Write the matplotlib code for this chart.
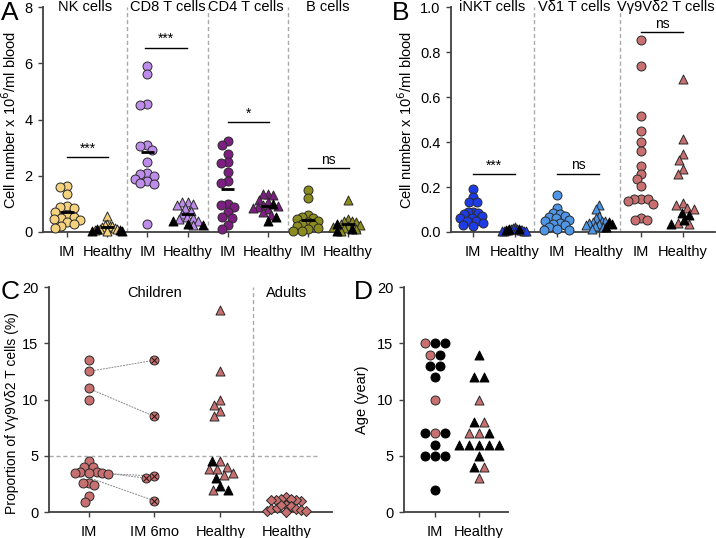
import numpy as np
import matplotlib
matplotlib.use("Agg")
import matplotlib.pyplot as plt

plt.rcParams['font.family'] = ['Liberation Sans', 'DejaVu Sans']

# ---------------- data ----------------
# panel A: cell number x 10^6/ml blood
nk_im = [1.63, 1.60, 1.35, 0.92, 0.88, 0.85, 0.70, 0.62, 0.55, 0.48, 0.45, 0.42, 0.35, 0.28, 0.22, 0.15]
nk_healthy = [0.58, 0.30, 0.25, 0.22, 0.20, 0.18, 0.15, 0.12, 0.10, 0.08, 0.05]
nk_healthy_black = [0.12, 0.08, 0.05, 0.03]
cd8_im = [5.92, 5.62, 4.55, 4.52, 3.08, 3.05, 2.90, 2.50, 2.10, 2.05, 2.00, 1.90, 1.80, 1.75, 1.70, 0.30]
cd8_healthy = [1.08, 1.05, 1.00, 0.95, 0.85, 0.75, 0.65, 0.55, 0.50, 0.45, 0.40, 0.25]
cd8_healthy_black = [0.40, 0.30, 0.25]
cd4_im = [3.25, 3.10, 2.78, 2.50, 2.45, 2.15, 1.80, 1.75, 1.00, 0.95, 0.90, 0.70, 0.55, 0.50, 0.25, 0.10]
cd4_healthy = [1.35, 1.35, 1.30, 1.15, 1.05, 0.95, 0.92, 0.90, 0.85, 0.80, 0.70, 0.60]
cd4_healthy_black = [1.00, 0.55, 0.38]
b_im = [1.48, 1.20, 0.60, 0.55, 0.50, 0.45, 0.40, 0.35, 0.30, 0.25, 0.20, 0.15, 0.10, 0.05, 0.03]
b_healthy = [1.15, 0.45, 0.40, 0.38, 0.35, 0.30, 0.25, 0.20, 0.18, 0.15, 0.10, 0.05]
b_healthy_black = [0.30, 0.12, 0.05]

# panel B
inkt_im = [0.19, 0.155, 0.135, 0.135, 0.09, 0.09, 0.085, 0.08, 0.07, 0.06, 0.06, 0.05, 0.05, 0.04, 0.03, 0.025]
inkt_healthy = [0.02, 0.018, 0.015, 0.012, 0.01, 0.01, 0.008, 0.006, 0.005, 0.004, 0.003]
inkt_healthy_black = [0.015, 0.012, 0.008]
vd1_im = [0.165, 0.105, 0.085, 0.08, 0.07, 0.065, 0.06, 0.055, 0.05, 0.04, 0.035, 0.03, 0.02, 0.015, 0.01, 0.01]
vd1_healthy = [0.12, 0.10, 0.07, 0.06, 0.05, 0.05, 0.045, 0.04, 0.035, 0.03, 0.025, 0.02, 0.015]
vd1_healthy_black = [0.045, 0.035, 0.02]
vg9_im = [0.855, 0.74, 0.515, 0.45, 0.40, 0.36, 0.295, 0.26, 0.235, 0.205, 0.145, 0.145, 0.14, 0.145, 0.125, 0.06, 0.055, 0.055]
vg9_healthy = [0.68, 0.415, 0.345, 0.32, 0.28, 0.26, 0.13, 0.12, 0.105, 0.10, 0.04, 0.035]
vg9_healthy_black = [0.085, 0.075, 0.055, 0.035]

# panel C: proportion of Vg9Vd2 T cells (%)
c_im = [13.5, 12.5, 11.0, 10.0, 4.5, 4.0, 4.0, 3.6, 3.55, 3.5, 3.5, 3.5, 3.35, 2.55, 2.55, 2.4, 1.4, 0.85]
c_im_6mo = [13.5, 8.5, 3.2, 3.0, 1.0]
c_pairs = [(1, 0), (2, 1), (9, 2), (10, 3), (11, 4)]
c_healthy = [18.0, 12.5, 10.0, 9.5, 9.0, 8.5, 4.5, 4.0, 3.8, 3.8, 3.5, 3.3, 2.0]
c_healthy_black = [4.5, 3.0, 2.3, 2.0]
c_adults = [1.3, 1.2, 1.1, 1.0, 1.1, 1.1, 1.2, 0.6, 0.5, 0.3, 0.2, 0.1, 0.0, 0.1, 0.25, 0.35, 0.6]

# panel D: age (year); 1 = high Vg9Vd2 (pink), 0 = black
d_im_age = [15, 15, 15, 14, 14, 13, 13, 12, 10, 7, 7, 7, 6, 5, 5, 5, 2]
d_im_high = [1, 0, 0, 1, 0, 0, 0, 0, 1, 0, 1, 0, 0, 0, 0, 0, 0]
d_healthy_age = [14, 12, 12, 10, 8, 8, 7, 7, 7, 6, 6, 6, 6, 6, 5, 4, 4, 3]
d_healthy_high = [0, 0, 0, 1, 0, 1, 1, 1, 0, 0, 0, 0, 0, 0, 0, 0, 1, 1]

# ---------------- helpers ----------------
AX_COL = '#404040'
EDGE = '#2a2a2a'
ROSE = '#c87070'


def style(ax):
    for s in ['top', 'right']:
        ax.spines[s].set_visible(False)
    for s in ['left', 'bottom']:
        ax.spines[s].set_color(AX_COL)
        ax.spines[s].set_linewidth(1.3)
    ax.tick_params(direction='out', length=3.5, width=1, color=AX_COL,
                   labelsize=10.5, pad=4)
    ax.tick_params(axis='x', pad=6)


def swarm(ax, x0, vals, d, maxpx):
    # simple beeswarm in pixel space, then squeezed to maxpx half width
    vals = np.asarray(vals, float)
    pts = ax.transData.transform(np.column_stack([np.full(len(vals), x0), vals]))
    pxx = ax.transData.transform([[1, 0]])[0][0] - ax.transData.transform([[0, 0]])[0][0]
    ys = pts[:, 1]
    offs = np.zeros(len(vals))
    placed = []
    for i in np.argsort(-ys, kind='stable'):
        y = ys[i]
        near = [(px, py) for px, py in placed if abs(py - y) < d]
        cands = [0.0]
        for px, py in near:
            dx = np.sqrt(d * d - (py - y) ** 2)
            cands += [px + dx, px - dx]
        cands.sort(key=lambda c: (round(abs(c), 3), c))
        for c in cands:
            if all((c - px) ** 2 + (y - py) ** 2 >= d * d - 1e-3 for px, py in near):
                break
        placed.append((c, y))
        offs[i] = c
    w = np.abs(offs).max()
    if w > maxpx:
        offs = offs * maxpx / w
    return offs / pxx


def group(ax, x0, vals, color, marker, black=None, d=7.0, s=42, maxpx=15):
    black = black or []
    allv = list(vals) + list(black)
    offs = swarm(ax, x0, allv, d, maxpx)
    n = len(vals)
    ax.scatter(x0 + offs[:n], vals, s=s, marker=marker, facecolor=color,
               edgecolor=EDGE, linewidth=0.7, zorder=3, clip_on=False)
    if black:
        ax.scatter(x0 + offs[n:], black, s=s, marker=marker, facecolor='black',
                   edgecolor='black', linewidth=0.7, zorder=4, clip_on=False)
    return offs


def sig(ax, x1, x2, y, txt, dy):
    ax.plot([x1, x2], [y, y], color='black', lw=1)
    ax.text((x1 + x2) / 2, y + dy, txt, ha='center', va='bottom', fontsize=10)


def seps(ax, xs):
    for x in xs:
        ax.axvline(x, color='#aaaaaa', lw=1, ls=(0, (3, 2)), zorder=1)


fig = plt.figure(figsize=(7.16, 5.38), dpi=100)

# ---------------- panel A ----------------
axA = fig.add_axes([0.060, 0.5688, 0.443, 0.418])
axA.set_xlim(-0.6, 7.3)
axA.set_ylim(0, 8)
style(axA)
seps(axA, [1.5, 3.5, 5.5])
a_groups = [
    (nk_im, None, '#f5d27e', 'o'), (nk_healthy, nk_healthy_black, '#f5d27e', '^'),
    (cd8_im, None, '#be8ceb', 'o'), (cd8_healthy, cd8_healthy_black, '#be8ceb', '^'),
    (cd4_im, None, '#7d1e82', 'o'), (cd4_healthy, cd4_healthy_black, '#7d1e82', '^'),
    (b_im, None, '#8c8c1e', 'o'), (b_healthy, b_healthy_black, '#8c8c1e', '^'),
]
for i, (v, blk, col, m) in enumerate(a_groups):
    group(axA, i, v, col, m, blk)
    mean = np.mean(list(v) + list(blk or []))
    axA.hlines(mean, i - 0.17, i + 0.17, color='black', lw=2, zorder=5)
axA.set_xticks(range(8))
axA.set_xticklabels(['IM', 'Healthy'] * 4)
axA.set_yticks([0, 2, 4, 6, 8])
axA.set_ylabel('Cell number x 10$^6$/ml blood', fontsize=10.5, labelpad=4)
for x, t in zip([0.45, 2.5, 4.45, 6.5], ['NK cells', 'CD8 T cells', 'CD4 T cells', 'B cells']):
    axA.text(x, 8.0, t, ha='center', va='center', fontsize=10.5)
sig(axA, 0, 1.03, 2.65, '***', 0.05)
sig(axA, 1.95, 2.98, 6.56, '***', 0.05)
sig(axA, 4.0, 5.03, 3.9, '*', 0.05)
sig(axA, 6.0, 7.03, 2.27, 'ns', 0.05)

# ---------------- panel B ----------------
axB = fig.add_axes([0.630, 0.5688, 0.368, 0.418])
axB.set_xlim(-0.52, 5.75)
axB.set_ylim(0, 1.0)
style(axB)
seps(axB, [1.45, 3.5])
b_groups = [
    (inkt_im, None, '#1e3ce6', 'o'), (inkt_healthy, inkt_healthy_black, '#1e3ce6', '^'),
    (vd1_im, None, '#5096e6', 'o'), (vd1_healthy, vd1_healthy_black, '#5096e6', '^'),
    (vg9_im, None, ROSE, 'o'), (vg9_healthy, vg9_healthy_black, ROSE, '^'),
]
for i, (v, blk, col, m) in enumerate(b_groups):
    group(axB, i, v, col, m, blk, maxpx=13)
axB.set_xticks(range(6))
axB.set_xticklabels(['IM', 'Healthy'] * 3)
axB.set_yticks(np.arange(0, 1.01, 0.2))
axB.set_yticklabels(['0.0', '0.2', '0.4', '0.6', '0.8', '1.0'])
axB.set_ylabel('Cell number x 10$^6$/ml blood', fontsize=10.5, labelpad=4)
for x, t in zip([0.45, 2.4, 4.6], ['iNKT cells', 'Vδ1 T cells', 'Vγ9Vδ2 T cells']):
    axB.text(x, 1.0, t, ha='center', va='center', fontsize=10.5)
sig(axB, 0, 1.0, 0.26, '***', 0.005)
sig(axB, 2.0, 3.0, 0.26, 'ns', 0.005)
sig(axB, 4.0, 5.0, 0.89, 'ns', 0.005)

# ---------------- panel C ----------------
axC = fig.add_axes([0.0684, 0.0483, 0.395, 0.418])
axC.set_xlim(-0.6, 3.69)
axC.set_ylim(0, 20)
style(axC)
axC.axvline(2.5, color='#aaaaaa', lw=1, ls=(0, (3, 2)), zorder=1)
axC.plot([-0.6, 3.5], [5, 5], color='#aaaaaa', lw=1, ls=(0, (3, 2)), zorder=1)
off_im = group(axC, 0, c_im, ROSE, 'o', d=8.5, maxpx=19)
off_mo = group(axC, 1, c_im_6mo, ROSE, 'o', d=8.5)
axC.scatter(1 + off_mo, c_im_6mo, s=22, marker='x', color='#3a1a1a', linewidth=0.8,
            zorder=5)
for a, b in c_pairs:
    axC.plot([off_im[a], 1 + off_mo[b]], [c_im[a], c_im_6mo[b]], color='#8a8a8a',
             lw=0.7, ls=(0, (2, 1)), zorder=2)
group(axC, 2, c_healthy, ROSE, '^', c_healthy_black, d=8.5, maxpx=18)
group(axC, 3, c_adults, ROSE, 'D', d=6.5, s=26, maxpx=20)
axC.set_xticks(range(4))
axC.set_xticklabels(['IM', 'IM 6mo', 'Healthy', 'Healthy'])
axC.set_yticks([0, 5, 10, 15, 20])
axC.set_ylabel('Proportion of Vγ9Vδ2 T cells (%)', fontsize=10)
axC.yaxis.set_label_coords(-0.105, 0.44)
axC.text(1.0, 19.5, 'Children', ha='center', va='center', fontsize=10.5)
axC.text(3.0, 19.5, 'Adults', ha='center', va='center', fontsize=10.5)

# ---------------- panel D ----------------
axD = fig.add_axes([0.5642, 0.0483, 0.145, 0.418])
axD.set_xlim(-0.7, 1.66)
axD.set_ylim(0, 20)
style(axD)
pxx = axD.transData.transform([[1, 0]])[0][0] - axD.transData.transform([[0, 0]])[0][0]
step = 10.0 / pxx
for x0, ages, high, m in [(0, d_im_age, d_im_high, 'o'), (1, d_healthy_age, d_healthy_high, '^')]:
    ages = np.array(ages)
    high = np.array(high)
    xs = np.zeros(len(ages))
    for a in np.unique(ages):
        idx = np.where(ages == a)[0]
        xs[idx] = x0 + (np.arange(len(idx)) - (len(idx) - 1) / 2) * step
    hi = high == 1
    axD.scatter(xs[hi], ages[hi], s=42, marker=m, facecolor=ROSE, edgecolor=EDGE,
                linewidth=0.7, zorder=3)
    axD.scatter(xs[~hi], ages[~hi], s=42, marker=m, facecolor='black',
                edgecolor='black', linewidth=0.7, zorder=3)
axD.set_xticks([0, 1])
axD.set_xticklabels(['IM', 'Healthy'])
axD.set_yticks([0, 5, 10, 15, 20])
axD.set_ylabel('Age (year)', fontsize=10.5, labelpad=6)

# panel letters
for x, y, t in [(0.014, 0.975, 'A'), (0.559, 0.975, 'B'), (0.014, 0.458, 'C'), (0.508, 0.458, 'D')]:
    fig.text(x, y, t, fontsize=19, ha='center', va='center')

fig.savefig('out.png', dpi=100)
